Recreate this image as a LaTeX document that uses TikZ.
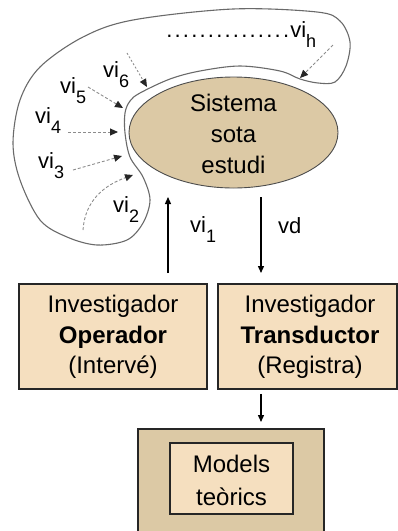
\documentclass[tikz,border=0pt]{standalone}
\usepackage{fontspec}
\setmainfont{Liberation Sans}
\usetikzlibrary{arrows.meta,shapes.geometric}
\definecolor{tanfill}{HTML}{DCC9A5}
\definecolor{wheatfill}{HTML}{F5DFBF}
\definecolor{blobline}{HTML}{6A6A6A}
\definecolor{dashgray}{HTML}{8C8C8C}
\newcommand{\visub}[1]{vi\raisebox{-10pt}{\fontsize{18}{18}\selectfont #1}}
\begin{document}
\begin{tikzpicture}[x=1pt,y=-1pt,
  txt/.style={font=\fontsize{23}{30.5}\selectfont, align=center, inner sep=0pt},
  lbl/.style={font=\fontsize{22}{24}\selectfont, inner sep=0pt, anchor=base west},
  dasharrow/.style={dashgray, dash pattern=on 3pt off 2pt, line width=0.9pt,
    -{Triangle[length=8pt,width=7pt,fill=black!85,color=black!85]}},
  solidarrow/.style={black, line width=1.3pt, -{Triangle[length=7pt,width=6pt]}},
  box/.style={draw=black!85, line width=1.5pt, fill=wheatfill, inner sep=0pt}]
\useasboundingbox (0,0) rectangle (398,531);
% blob outline
\draw[blobline, line width=1.1pt] plot[smooth cycle, tension=0.55] coordinates {
  (140,93) (170,79) (200,71) (240,66) (280,71) (300,79) (318,83) (335,82)
  (346,66) (350,42) (340,21) (317,12) (233,9) (133,20) (83,37) (40,67)
  (20,100) (13,143) (20,180) (40,220) (67,237) (97,245) (127,240)
  (143,223) (150,200) (143,177) (130,157) (125,133) (125,113) (130,101)};
% system
\node[draw=black!70, line width=0.9pt, fill=tanfill, ellipse, minimum width=209pt,
  minimum height=111pt, inner sep=0pt] (sys) at (233.5,132.5) {};
\node[txt, font=\fontsize{24}{31}\selectfont] (systxt) at (233.5,134) {Sistema\\sota\\estudi};
% boxes
\node[box, minimum width=188pt, minimum height=105pt] (op) at (113,336.5) {};
\node[txt, font=\fontsize{24}{30.5}\selectfont] (optxt) at (113,337) {Investigador\\\textbf{Operador}\\(Intervé)};
\node[box, minimum width=179pt, minimum height=105pt] (tr) at (307.5,336.5) {};
\node[txt, font=\fontsize{24}{30.5}\selectfont] (trtxt) at (310,337) {Investigador\\\textbf{Transductor}\\(Registra)};
\node[draw=black!85, line width=1.5pt, fill=tanfill, minimum width=186pt,
  minimum height=120pt, anchor=north, inner sep=0pt] (outer) at (231,428) {};
\node[box, minimum width=123pt, minimum height=71pt] (inner) at (231.5,478.5) {};
\node[txt, font=\fontsize{24}{33}\selectfont] (intxt) at (231.5,480) {Models\\teòrics};
% solid arrows
\coordinate (vione) at (168,197);
\coordinate (vdend) at (261,273);
\coordinate (mend) at (261,422);
\draw[solidarrow] (vione |- vdend) -- (vione);
\draw[solidarrow] (vdend |- sys.south) ++(0,9) -- (vdend);
\draw[solidarrow] (tr.south -| mend) ++(0,4) -- (mend);
% labels
\node[lbl] (l1) at (190,232) {\visub{1}};
\node[lbl] (ld) at (278,233) {vd};
\node[lbl] (l2) at (113,212) {\visub{2}};
\node[lbl] (l3) at (38,168) {\visub{3}};
\node[lbl] (l4) at (35,123) {\visub{4}};
\node[lbl] (l5) at (60,93) {\visub{5}};
\node[lbl] (l6) at (103,77) {\visub{6}};
\node[lbl] (lh) at (165,37) {\hbox to 125pt{\xleaders\hbox to 8.3pt{\hss.\hss}\hfill}\visub{h}};
% dashed arrows
\coordinate (ah1) at (333,45); \coordinate (ah2) at (300,78);
\coordinate (a61) at (127,53); \coordinate (a62) at (147,87);
\coordinate (a51) at (88,87);  \coordinate (a52) at (123,108);
\coordinate (a41) at (68,132); \coordinate (a42) at (118,132);
\coordinate (a31) at (73,170); \coordinate (a32) at (122,156);
\coordinate (a21) at (83,230); \coordinate (a22) at (133,175);
\draw[dasharrow] (ah1) -- (ah2);
\draw[dasharrow, dash pattern=on 2pt off 2pt] (a61) -- (a62);
\draw[dasharrow] (a51) -- (a52);
\draw[dasharrow] (a41) -- (a42);
\draw[dasharrow] (a31) -- (a32);
\draw[dasharrow] (a21) .. controls (85,200) and (105,185) .. (a22);
\end{tikzpicture}
\end{document}
